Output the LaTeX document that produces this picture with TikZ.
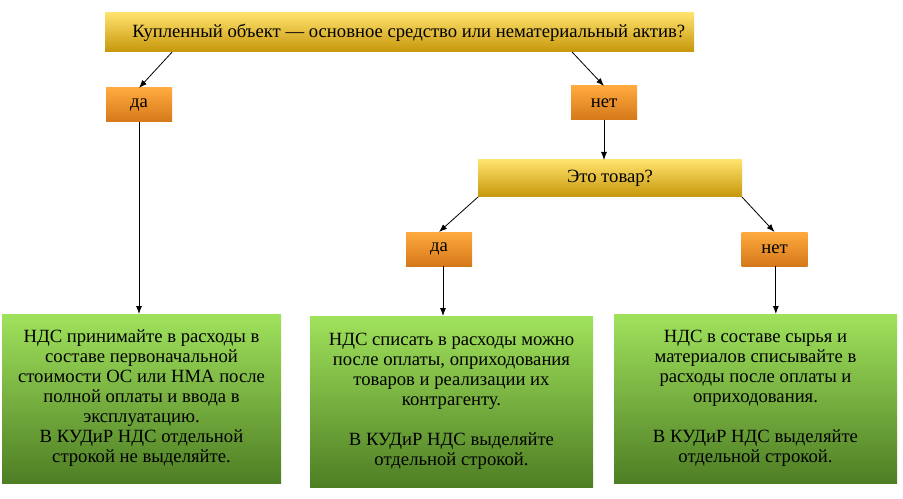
\documentclass[tikz,border=0pt]{standalone}
\usepackage{fontspec}
\setmainfont{Liberation Serif}
\usepackage{tikz}
\usetikzlibrary{calc,arrows.meta}
\definecolor{qtop}{HTML}{FFE26C}
\definecolor{qbot}{HTML}{C6960A}
\definecolor{atop}{HTML}{FFAA3E}
\definecolor{abot}{HTML}{D5781A}
\definecolor{rtop}{HTML}{A0E25C}
\definecolor{rbot}{HTML}{4E7E24}

\begin{document}
\begin{tikzpicture}[x=0.75pt,y=-0.75pt]
\tikzstyle{question}=[outer sep=0pt,inner sep=0pt,top color=qtop,bottom color=qbot,font=\rmfamily\fontsize{14}{15}\selectfont]
\tikzstyle{answer}=[outer sep=0pt,inner sep=0pt,minimum width=49.5pt,minimum height=25.5pt,top color=atop,bottom color=abot,font=\rmfamily\fontsize{14}{15}\selectfont]
\tikzstyle{result}=[outer sep=0pt,inner sep=0pt,align=center,top color=rtop,bottom color=rbot,font=\rmfamily\fontsize{14}{15}\selectfont]
\tikzstyle{arrow}=[-{Latex[length=6pt,width=4.5pt]},line width=0.6pt]

\useasboundingbox (0,0) rectangle (903,499);

\node (Q1) [question,minimum width=441.75pt,minimum height=29.25pt] at (399.5,32.5) {\hspace{14pt}Купленный объект — основное средство или нематериальный актив?};
\node (A1) [answer] at (139,105) {да};
\node (A2) [answer] at (604,103) {нет};

\node (Q2) [question,minimum width=198pt,minimum height=27.75pt] at (610,178.5) {Это товар?};
\node (A3) [answer] at (439,249) {да};
\node (A4) [answer] at (774.5,249) {нет};

\node (R1) [result,minimum width=209.25pt,minimum height=126.75pt] at (141.5,398.5) {НДС принимайте в расходы в\\составе первоначальной\\стоимости ОС или НМА после\\полной оплаты и ввода в\\эксплуатацию.\\В КУДиР НДС отдельной\\строкой не выделяйте.};
\node (R2) [result,minimum width=212.25pt,minimum height=128.25pt] at (451.5,401.5) {НДС списать в расходы можно\\после оплаты, оприходования\\товаров и реализации их\\контрагенту.\\[15pt]В КУДиР НДС выделяйте\\отдельной строкой.};
\node (R3) [result,minimum width=212.25pt,minimum height=126.75pt] at (755.5,398.5) {НДС в составе сырья и\\материалов списывайте в\\расходы после оплаты и\\оприходования.\\[15pt]В КУДиР НДС выделяйте\\отдельной строкой.};

\draw [arrow] ($(Q1.south west)!0.114!(Q1.south east)$) -- (A1.north);
\draw [arrow] ($(Q1.south west)!0.793!(Q1.south east)$) -- (A2.north);
\draw [arrow] (A1.south) -- (A1.south |- R1.north);
\draw [arrow] (A2.south) -- (Q2.north -| A2.south);

\draw [arrow] (Q2.south west) -- (A3.north);
\draw [arrow] (Q2.south east) -- (A4.north);
\draw [arrow] ([xshift=3pt]A3.south) -- ([xshift=3pt]A3.south |- R2.north);
\draw [arrow] ([xshift=1pt]A4.south) -- ([xshift=1pt]A4.south |- R3.north);

\end{tikzpicture}
\end{document}
